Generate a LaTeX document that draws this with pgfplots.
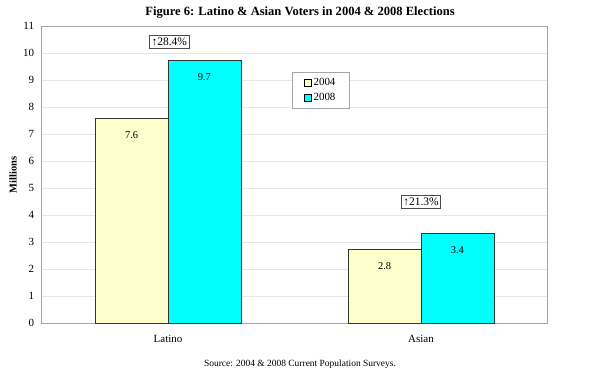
\documentclass[border=0pt]{standalone}
\usepackage{pgfplots}
\pgfplotsset{compat=1.18}
\usepackage{fontspec}
\setmainfont{Liberation Serif}
\definecolor{gridc}{HTML}{E6E6E6}
\definecolor{framec}{HTML}{A6A6A6}
\definecolor{yel}{HTML}{FFFFCC}
\definecolor{cyn}{HTML}{00FFFF}
\begin{document}
\begin{tikzpicture}
\path[use as bounding box] (-41.5bp,-51bp) rectangle (548.5bp,323bp);
\begin{axis}[
  at={(0,0)}, anchor=south west,
  scale only axis, width=506bp, height=297bp,
  xmin=-0.5, xmax=1.5, ymin=0, ymax=11,
  xtick={0,1}, xticklabels={Latino,Asian},
  ytick={0,1,...,11},
  /pgf/number format/assume math mode=true,
  major tick length=0pt,
  axis line style={framec},
  ymajorgrids, grid style={gridc},
  tick label style={font=\fontsize{11}{12}\selectfont},
  yticklabel style={xshift=-4bp},
  xticklabel style={yshift=-9bp},
  ybar, bar width=0.288,
  nodes near coords={\pgfplotspointmeta},
  point meta=explicit symbolic,
  every node near coord/.append style={anchor=north, yshift=-13bp, inner sep=0pt, font=\fontsize{10.5}{12}\selectfont, text=black},
  legend style={at={(axis description cs:0.495,0.845)}, anchor=north west, draw=framec, font=\fontsize{11}{12}\selectfont, inner xsep=12bp, inner ysep=4bp, row sep=2bp, legend cell align=left},
  legend image code/.code={\draw[#1,draw=black,line width=0.4pt] (0bp,-3.5bp) rectangle (7bp,3.5bp);},
]
\addplot[fill=yel, draw=black!80, line width=0.5pt, bar shift=-0.144] coordinates {(0,7.57) [7.6] (1,2.74) [2.8]};
\addplot[fill=cyn, draw=black!80, line width=0.5pt, bar shift=0.144] coordinates {(0,9.73) [9.7] (1,3.33) [3.4]};
\legend{2004,2008}
\node[draw=black!70, line width=0.5pt, fill=white, inner xsep=2bp, inner ysep=2.5bp, font=\fontsize{11.5}{12}\selectfont] at (axis cs:0.005,10.4) {↑28.4\%};
\node[draw=black!70, line width=0.5pt, fill=white, inner xsep=2bp, inner ysep=2.5bp, font=\fontsize{11.5}{12}\selectfont] at (axis cs:1.0,4.48) {↑21.3\%};
\end{axis}
\node[rotate=90, font=\bfseries\fontsize{10.5}{12}\selectfont] at (-28.5bp,148bp) {Millions};
\node[font=\bfseries\fontsize{12.6}{14}\selectfont] at (258.5bp,310bp) {Figure 6: Latino \& Asian Voters in 2004 \& 2008 Elections};
\node[font=\fontsize{9.5}{10}\selectfont] at (258.5bp,-41bp) {Source: 2004 \& 2008 Current Population Surveys.};
\end{tikzpicture}
\end{document}
